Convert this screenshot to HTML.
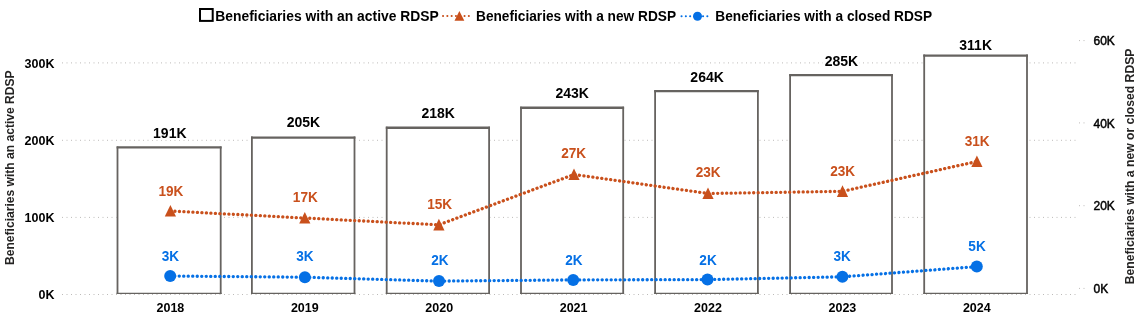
<!DOCTYPE html>
<html><head><meta charset="utf-8"><style>
html,body{margin:0;padding:0;background:#fff;width:1140px;height:319px;overflow:hidden}
svg{display:block;font-family:"Liberation Sans", sans-serif;will-change:transform}
</style></head><body>
<svg width="1140" height="319" viewBox="0 0 1140 319">
<line x1="62" y1="62.9" x2="1078" y2="62.9" stroke="#BDBBB9" stroke-width="1" stroke-dasharray="1 3.5"/>
<line x1="62" y1="140.3" x2="1078" y2="140.3" stroke="#BDBBB9" stroke-width="1" stroke-dasharray="1 3.5"/>
<line x1="62" y1="217.4" x2="1078" y2="217.4" stroke="#BDBBB9" stroke-width="1" stroke-dasharray="1 3.5"/>
<line x1="62" y1="294.5" x2="1078" y2="294.5" stroke="#BDBBB9" stroke-width="1" stroke-dasharray="1 3.5"/>
<line x1="1079" y1="40.6" x2="1086" y2="40.6" stroke="#BDBBB9" stroke-width="1" stroke-dasharray="1 3.5"/>
<line x1="1079" y1="122.9" x2="1086" y2="122.9" stroke="#BDBBB9" stroke-width="1" stroke-dasharray="1 3.5"/>
<line x1="1079" y1="205.7" x2="1086" y2="205.7" stroke="#BDBBB9" stroke-width="1" stroke-dasharray="1 3.5"/>
<line x1="1079" y1="288.4" x2="1086" y2="288.4" stroke="#BDBBB9" stroke-width="1" stroke-dasharray="1 3.5"/>
<rect x="116.60" y="147.00" width="105.00" height="146.50" fill="#fff"/>
<path d="M117.50 146.50 V293.9 M220.70 146.50 V293.9" stroke="#666360" stroke-width="1.8" fill="none"/>
<path d="M116.60 147.45 H221.60" stroke="#666360" stroke-width="2.3" fill="none"/>
<path d="M116.60 293.3 H221.60" stroke="#666360" stroke-width="1.3" fill="none"/>
<rect x="251.00" y="137.10" width="104.40" height="156.40" fill="#fff"/>
<path d="M251.90 136.60 V293.9 M354.50 136.60 V293.9" stroke="#666360" stroke-width="1.8" fill="none"/>
<path d="M251.00 137.55 H355.40" stroke="#666360" stroke-width="2.3" fill="none"/>
<path d="M251.00 293.3 H355.40" stroke="#666360" stroke-width="1.3" fill="none"/>
<rect x="385.80" y="127.30" width="104.20" height="166.20" fill="#fff"/>
<path d="M386.70 126.80 V293.9 M489.10 126.80 V293.9" stroke="#666360" stroke-width="1.8" fill="none"/>
<path d="M385.80 127.75 H490.00" stroke="#666360" stroke-width="2.3" fill="none"/>
<path d="M385.80 293.3 H490.00" stroke="#666360" stroke-width="1.3" fill="none"/>
<rect x="520.10" y="107.30" width="104.00" height="186.20" fill="#fff"/>
<path d="M521.00 106.80 V293.9 M623.20 106.80 V293.9" stroke="#666360" stroke-width="1.8" fill="none"/>
<path d="M520.10 107.75 H624.10" stroke="#666360" stroke-width="2.3" fill="none"/>
<path d="M520.10 293.3 H624.10" stroke="#666360" stroke-width="1.3" fill="none"/>
<rect x="654.20" y="90.70" width="104.60" height="202.80" fill="#fff"/>
<path d="M655.10 90.20 V293.9 M757.90 90.20 V293.9" stroke="#666360" stroke-width="1.8" fill="none"/>
<path d="M654.20 91.15 H758.80" stroke="#666360" stroke-width="2.3" fill="none"/>
<path d="M654.20 293.3 H758.80" stroke="#666360" stroke-width="1.3" fill="none"/>
<rect x="789.20" y="74.70" width="103.70" height="218.80" fill="#fff"/>
<path d="M790.10 74.20 V293.9 M892.00 74.20 V293.9" stroke="#666360" stroke-width="1.8" fill="none"/>
<path d="M789.20 75.15 H892.90" stroke="#666360" stroke-width="2.3" fill="none"/>
<path d="M789.20 293.3 H892.90" stroke="#666360" stroke-width="1.3" fill="none"/>
<rect x="923.30" y="55.10" width="104.60" height="238.40" fill="#fff"/>
<path d="M924.20 54.60 V293.9 M1027.00 54.60 V293.9" stroke="#666360" stroke-width="1.8" fill="none"/>
<path d="M923.30 55.55 H1027.90" stroke="#666360" stroke-width="2.3" fill="none"/>
<path d="M923.30 293.3 H1027.90" stroke="#666360" stroke-width="1.3" fill="none"/>
<rect x="151.3" y="126.9" width="36.5" height="13" fill="#fff"/>
<text x="169.8" y="137.9" text-anchor="middle" font-size="14" font-weight="bold" fill="#000">191K</text>
<rect x="284.95" y="116.1" width="36.5" height="13" fill="#fff"/>
<text x="303.45" y="127.1" text-anchor="middle" font-size="14" font-weight="bold" fill="#000">205K</text>
<rect x="419.65" y="106.7" width="36.5" height="13" fill="#fff"/>
<text x="438.15" y="117.7" text-anchor="middle" font-size="14" font-weight="bold" fill="#000">218K</text>
<rect x="553.75" y="86.7" width="36.5" height="13" fill="#fff"/>
<text x="572.25" y="97.7" text-anchor="middle" font-size="14" font-weight="bold" fill="#000">243K</text>
<rect x="688.6" y="71.0" width="36.5" height="13" fill="#fff"/>
<text x="707.1" y="82.0" text-anchor="middle" font-size="14" font-weight="bold" fill="#000">264K</text>
<rect x="822.9" y="54.7" width="36.5" height="13" fill="#fff"/>
<text x="841.4" y="65.7" text-anchor="middle" font-size="14" font-weight="bold" fill="#000">285K</text>
<rect x="957.15" y="38.8" width="36.5" height="13" fill="#fff"/>
<text x="975.65" y="49.8" text-anchor="middle" font-size="14" font-weight="bold" fill="#000">311K</text>
<polyline points="170.4,211.0 304.8,218.0 438.9,224.8 574.0,174.5 708.0,193.5 842.5,191.3 976.9,161.5" fill="none" stroke="#C9501C" stroke-width="3.3" stroke-linecap="round" stroke-dasharray="0.1 4.4"/>
<polyline points="170.2,276.0 304.9,277.2 439.0,281.1 573.2,279.9 707.5,279.6 842.4,276.8 976.8,266.6" fill="none" stroke="#0570E5" stroke-width="3.3" stroke-linecap="round" stroke-dasharray="0.1 4.4"/>
<path d="M170.4 205.0 L176.0 216.6 L164.8 216.6 Z" fill="#C9501C"/>
<path d="M304.8 212.0 L310.40000000000003 223.6 L299.2 223.6 Z" fill="#C9501C"/>
<path d="M438.9 218.8 L444.5 230.4 L433.29999999999995 230.4 Z" fill="#C9501C"/>
<path d="M574.0 168.5 L579.6 180.1 L568.4 180.1 Z" fill="#C9501C"/>
<path d="M708.0 187.5 L713.6 199.1 L702.4 199.1 Z" fill="#C9501C"/>
<path d="M842.5 185.3 L848.1 196.9 L836.9 196.9 Z" fill="#C9501C"/>
<path d="M976.9 155.5 L982.5 167.1 L971.3 167.1 Z" fill="#C9501C"/>
<circle cx="170.2" cy="276.0" r="6" fill="#0570E5"/>
<circle cx="304.9" cy="277.2" r="6" fill="#0570E5"/>
<circle cx="439.0" cy="281.1" r="6" fill="#0570E5"/>
<circle cx="573.2" cy="279.9" r="6" fill="#0570E5"/>
<circle cx="707.5" cy="279.6" r="6" fill="#0570E5"/>
<circle cx="842.4" cy="276.8" r="6" fill="#0570E5"/>
<circle cx="976.8" cy="266.6" r="6" fill="#0570E5"/>
<text transform="translate(170.85,195.8) scale(1,1.09)" text-anchor="middle" font-size="13.6" font-weight="bold" fill="#C9501C">19K</text>
<text transform="translate(305.3,202.1) scale(1,1.09)" text-anchor="middle" font-size="13.6" font-weight="bold" fill="#C9501C">17K</text>
<text transform="translate(439.65,209.0) scale(1,1.09)" text-anchor="middle" font-size="13.6" font-weight="bold" fill="#C9501C">15K</text>
<text transform="translate(573.6,157.6) scale(1,1.09)" text-anchor="middle" font-size="13.6" font-weight="bold" fill="#C9501C">27K</text>
<text transform="translate(708.1,176.8) scale(1,1.09)" text-anchor="middle" font-size="13.6" font-weight="bold" fill="#C9501C">23K</text>
<text transform="translate(842.65,175.7) scale(1,1.09)" text-anchor="middle" font-size="13.6" font-weight="bold" fill="#C9501C">23K</text>
<text transform="translate(977.2,145.7) scale(1,1.09)" text-anchor="middle" font-size="13.6" font-weight="bold" fill="#C9501C">31K</text>
<text transform="translate(170.45,260.7) scale(1,1.09)" text-anchor="middle" font-size="13.6" font-weight="bold" fill="#0570E5">3K</text>
<text transform="translate(304.95,260.8) scale(1,1.09)" text-anchor="middle" font-size="13.6" font-weight="bold" fill="#0570E5">3K</text>
<text transform="translate(439.85,264.9) scale(1,1.09)" text-anchor="middle" font-size="13.6" font-weight="bold" fill="#0570E5">2K</text>
<text transform="translate(573.85,264.9) scale(1,1.09)" text-anchor="middle" font-size="13.6" font-weight="bold" fill="#0570E5">2K</text>
<text transform="translate(708.05,264.6) scale(1,1.09)" text-anchor="middle" font-size="13.6" font-weight="bold" fill="#0570E5">2K</text>
<text transform="translate(842.25,260.7) scale(1,1.09)" text-anchor="middle" font-size="13.6" font-weight="bold" fill="#0570E5">3K</text>
<text transform="translate(977.05,250.7) scale(1,1.09)" text-anchor="middle" font-size="13.6" font-weight="bold" fill="#0570E5">5K</text>
<text x="170.4" y="311.9" text-anchor="middle" font-size="12.5" font-weight="bold" fill="#000">2018</text>
<text x="304.8" y="311.9" text-anchor="middle" font-size="12.5" font-weight="bold" fill="#000">2019</text>
<text x="439.20000000000005" y="311.9" text-anchor="middle" font-size="12.5" font-weight="bold" fill="#000">2020</text>
<text x="573.6" y="311.9" text-anchor="middle" font-size="12.5" font-weight="bold" fill="#000">2021</text>
<text x="708.0" y="311.9" text-anchor="middle" font-size="12.5" font-weight="bold" fill="#000">2022</text>
<text x="842.4" y="311.9" text-anchor="middle" font-size="12.5" font-weight="bold" fill="#000">2023</text>
<text x="976.8000000000001" y="311.9" text-anchor="middle" font-size="12.5" font-weight="bold" fill="#000">2024</text>
<text x="54.5" y="68.2" text-anchor="end" font-size="12.5" font-weight="bold" fill="#000">300K</text>
<text x="54.5" y="144.9" text-anchor="end" font-size="12.5" font-weight="bold" fill="#000">200K</text>
<text x="54.5" y="221.8" text-anchor="end" font-size="12.5" font-weight="bold" fill="#000">100K</text>
<text x="54.5" y="298.7" text-anchor="end" font-size="12.5" font-weight="bold" fill="#000">0K</text>
<text x="1093.5" y="44.6" text-anchor="start" font-size="12" fill="#000" stroke="#000" stroke-width="0.45">60K</text>
<text x="1093.5" y="127.8" text-anchor="start" font-size="12" fill="#000" stroke="#000" stroke-width="0.45">40K</text>
<text x="1093.5" y="209.6" text-anchor="start" font-size="12" fill="#000" stroke="#000" stroke-width="0.45">20K</text>
<text x="1093.5" y="292.5" text-anchor="start" font-size="12" fill="#000" stroke="#000" stroke-width="0.45">0K</text>
<text transform="translate(13.9,167.7) rotate(-90) scale(1,1.05)" text-anchor="middle" font-size="12.08" font-weight="bold" fill="#252423">Beneficiaries with an active RDSP</text>
<text transform="translate(1133.6,166.4) rotate(-90) scale(1,1.09)" text-anchor="middle" font-size="12.2" font-weight="bold" fill="#252423">Beneficiaries with a new or closed RDSP</text>
<rect x="200" y="9" width="12.7" height="11.9" fill="none" stroke="#000" stroke-width="2"/>
<text transform="translate(215.3,21.3) scale(1,1.1)" font-size="13.87" font-weight="bold" fill="#000">Beneficiaries with an active RDSP</text>
<line x1="443" y1="16" x2="473" y2="16" stroke="#C9501C" stroke-width="2" stroke-linecap="round" stroke-dasharray="0.1 4.2"/>
<path d="M459.4 11 L464.3 20.8 L454.5 20.8 Z" fill="#C9501C"/>
<text transform="translate(476,21.3) scale(1,1.1)" font-size="13.7" font-weight="bold" fill="#000">Beneficiaries with a new RDSP</text>
<line x1="681.5" y1="16.3" x2="711" y2="16.3" stroke="#0570E5" stroke-width="2" stroke-linecap="round" stroke-dasharray="0.1 4.2"/>
<circle cx="697.5" cy="16.3" r="4.5" fill="#0570E5"/>
<text transform="translate(715.3,21.3) scale(1,1.1)" font-size="13.7" font-weight="bold" fill="#000">Beneficiaries with a closed RDSP</text>
</svg>
</body></html>
